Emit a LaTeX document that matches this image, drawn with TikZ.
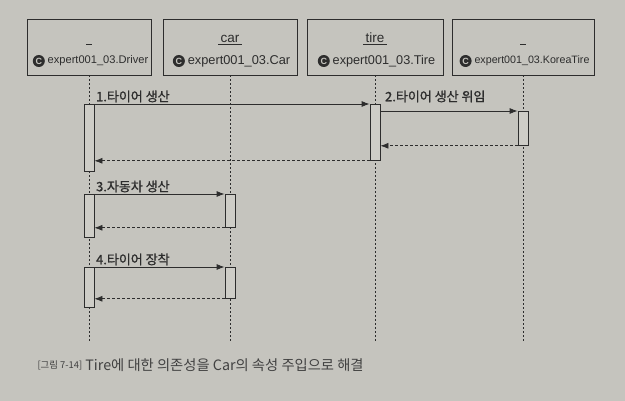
\documentclass[tikz,border=0pt]{standalone}
\usepackage{fontspec}
\setmainfont{Liberation Sans}
\newfontfamily\kr{Noto Sans CJK KR}[RawFeature={embolden=1.1}]
\newfontfamily\krcap{Noto Sans CJK KR}
\usetikzlibrary{arrows.meta,positioning}
\definecolor{PaperGray}{RGB}{197,196,190}
\definecolor{BarGray}{RGB}{206,205,199}
\definecolor{InkGray}{RGB}{45,45,45}
\definecolor{CapGray}{RGB}{65,65,65}
\tikzset{
  headbox/.style={draw=InkGray,line width=.9pt,minimum height=56pt,inner sep=0pt},
  objname/.style={font=\fontsize{13.5}{15}\selectfont,text=InkGray,anchor=base,inner sep=0pt},
  clsname/.style={text=InkGray,inner sep=0pt},
  classicon/.style={circle,fill=InkGray,text=PaperGray,minimum size=12pt,inner sep=0pt,font=\fontsize{9}{9}\selectfont\bfseries},
  lifeline/.style={InkGray,line width=.8pt,dash pattern=on 2pt off 2pt},
  actbar/.style={draw=InkGray,fill=BarGray,line width=.8pt,minimum width=10pt,inner sep=0pt,anchor=north},
  call/.style={InkGray,line width=.8pt,-{Latex[length=8pt,width=6pt]}},
  reply/.style={InkGray,line width=.8pt,dash pattern=on 3pt off 2pt,-{Latex[length=8pt,width=6pt]}},
  msglabel/.style={font=\kr\fontsize{13}{15}\selectfont,text=InkGray,anchor=south west,inner sep=1.5pt}
}
\begin{document}
\begin{tikzpicture}[x=1pt,y=-1pt]
  \fill[PaperGray] (0,0) rectangle (625,401);
  \coordinate (bottom) at (0,342);
  % lifeline heads
  \foreach \n/\x/\w/\fs/\obj/\cls in {drv/89/124/11.1/{\hspace{6pt}}/Driver,
      car/230/134/12.8/{\,car\,}/Car, tire/375/136/12.7/{\,tire\,}/Tire,
      kor/523/142/10.7/{\hspace{6pt}}/KoreaTire}{
    \node[headbox,minimum width=\w pt] (\n) at (\x,47) {};
    \node[objname] (\n-obj) at ([yshift=4.5pt]\n.center) {\underline{\obj}};
    \node[clsname,font=\fontsize{\fs}{\fs}\selectfont] (\n-cls) at ([xshift=9pt,yshift=-14pt]\n.center) {expert001\_03.\cls};
    \node[classicon,left=2.5pt of \n-cls] (\n-ico) {C};
    \draw[lifeline] (\n.south) -- (\n.south |- bottom);
  }
  % activations
  \node[actbar,minimum height=67pt] (d1) at (89,104) {};
  \node[actbar,minimum height=56pt] (t1) at (375,104) {};
  \node[actbar,minimum height=34pt] (k1) at (523,111) {};
  \node[actbar,minimum height=43pt] (d2) at (89,194) {};
  \node[actbar,minimum height=33pt] (c1) at (230,194) {};
  \node[actbar,minimum height=40pt] (d3) at (89,267) {};
  \node[actbar,minimum height=31pt] (c2) at (230,267) {};
  % messages
  \draw[call] (d1.north east) -- (t1.north west);
  \node[msglabel] (m1) at (d1.north east) {1.타이어 생산};
  \draw[call] (t1.east |- k1.north) -- (k1.north west);
  \node[msglabel] (m2) at ([xshift=3pt]t1.north east) {2.타이어 생산 위임};
  \draw[reply] (k1.south west) -- (k1.south west -| t1.east);
  \draw[reply] (t1.south west) -- (t1.south west -| d1.east);
  \draw[call] (d2.north east) -- (c1.north west);
  \node[msglabel] (m3) at (d2.north east) {3.자동차 생산};
  \draw[reply] (c1.south west) -- (c1.south west -| d2.east);
  \draw[call] (d3.north east) -- (c2.north west);
  \node[msglabel] (m4) at (d3.north east) {4.타이어 장착};
  \draw[reply] (c2.south west) -- (c2.south west -| d3.east);
  \node[font=\krcap\fontsize{14.3}{16}\selectfont,text=CapGray,anchor=west] (caption) at (34,365)
    {\raisebox{1.5pt}{\fontsize{9.4}{11}\selectfont[그림 7-14]} Tire에 대한 의존성을 Car의 속성 주입으로 해결};
\end{tikzpicture}
\end{document}
